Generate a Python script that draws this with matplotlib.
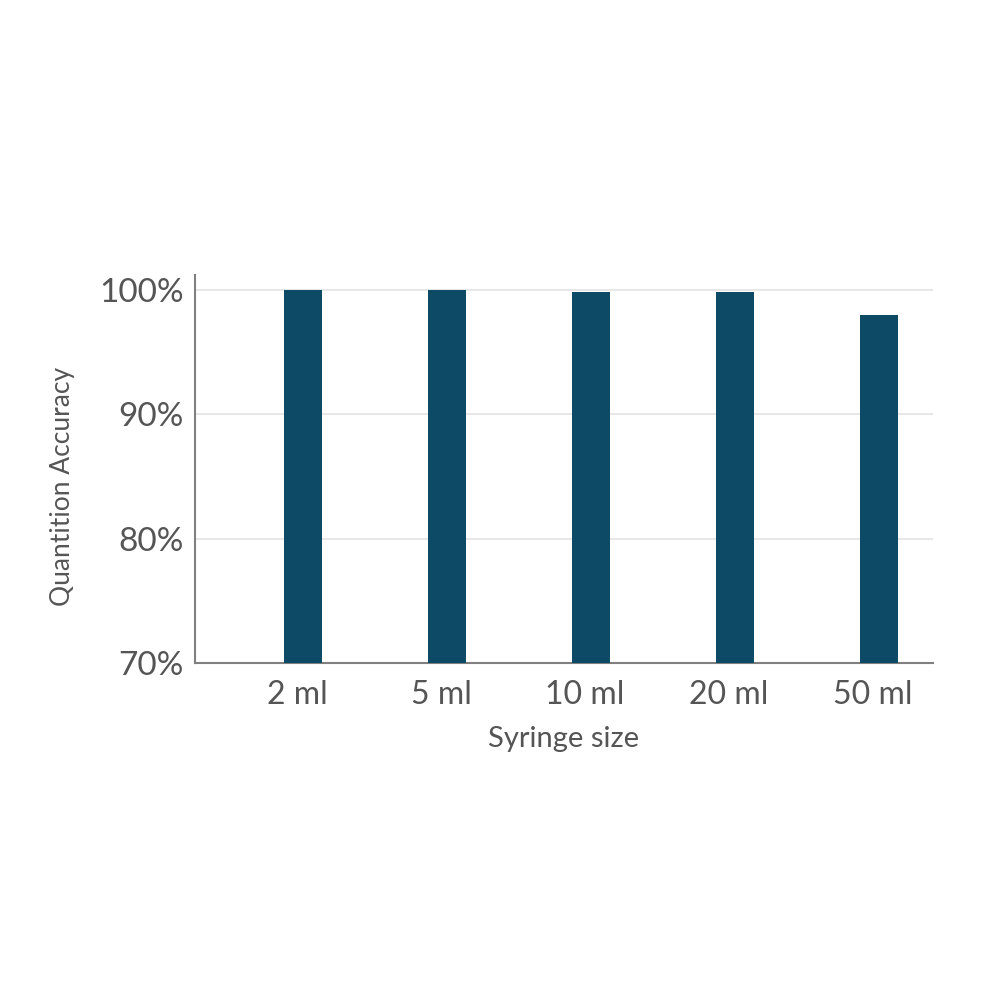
import matplotlib
matplotlib.use("Agg")
import matplotlib.pyplot as plt
import matplotlib.transforms as mtransforms
from matplotlib.ticker import FuncFormatter

sizes = ["2 ml", "5 ml", "10 ml", "20 ml", "50 ml"]
accuracy = [100.0, 100.0, 99.8, 99.8, 97.95]
y_ticks = [70, 80, 90, 100]

plt.rcParams["font.family"] = ["Lato", "DejaVu Sans"]
text_color = "#555555"

fig = plt.figure(figsize=(10, 10), dpi=100)
ax = fig.add_axes([0.195, 0.337, 0.738, 0.388])

x = range(len(sizes))
ax.bar(x, accuracy, width=0.257, color="#0d4a66", zorder=3)

ax.set_xlim(-0.75, 4.375)
ax.set_ylim(70, 101.2)
ax.set_yticks(y_ticks)
ax.yaxis.set_major_formatter(FuncFormatter(lambda v, p: f"{v:.0f}%"))
ax.set_xticks(list(x))
ax.set_xticklabels(sizes)

ax.grid(axis="y", color="#e3e3e3", linewidth=1.2, zorder=0)
for side in ["top", "right"]:
    ax.spines[side].set_visible(False)
for side in ["left", "bottom"]:
    ax.spines[side].set_color("#808080")
    ax.spines[side].set_linewidth(1.5)

ax.tick_params(axis="both", length=0, labelcolor=text_color)
ax.tick_params(axis="x", pad=12, labelsize=23)
ax.tick_params(axis="y", pad=8, labelsize=24)

# labels sit a touch left of the bar centres
shift = mtransforms.ScaledTranslation(-6 / 100, 0, fig.dpi_scale_trans)
for lbl in ax.get_xticklabels():
    lbl.set_transform(lbl.get_transform() + shift)

ax.set_xlabel("Syringe size", fontsize=21, color=text_color, labelpad=12)
ax.set_ylabel("Quantition Accuracy", fontsize=19, color=text_color)
ax.yaxis.set_label_coords(-0.163, 0.456)

fig.savefig("out.png", dpi=100, facecolor="white")
